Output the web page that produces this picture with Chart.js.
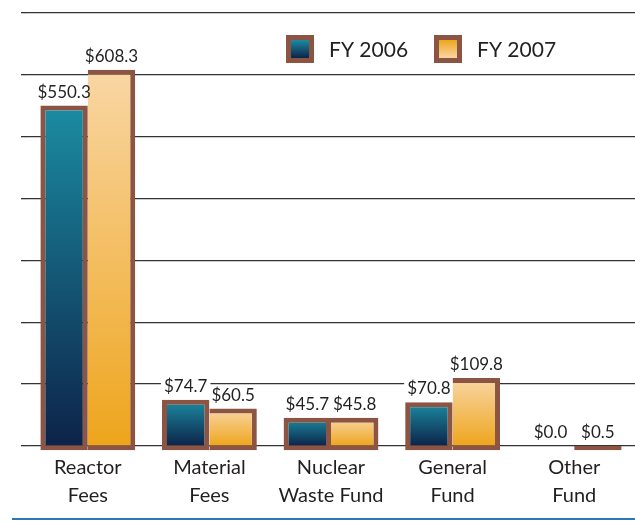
<!DOCTYPE html>
<html>
<head>
<meta charset="utf-8">
<script src="https://cdn.jsdelivr.net/npm/chart.js@4/dist/chart.umd.min.js"></script>
<style>
body { margin: 0; background: #fff; }
#wrap { position: relative; width: 635px; height: 521px; }
#bline { position: absolute; left: 12px; top: 518px; width: 623px; height: 2px; background: #2b78b6; }
</style>
</head>
<body>
<div id="wrap"><canvas id="myChart" width="635" height="521"></canvas><div id="bline"></div></div>
<script>
var categories = [["Reactor", "Fees"], ["Material", "Fees"], ["Nuclear", "Waste Fund"], ["General", "Fund"], ["Other", "Fund"]];
var seriesNames = ["FY 2006", "FY 2007"];
var fy2006 = [550.3, 74.7, 45.7, 70.8, 0.0];
var fy2007 = [608.3, 60.5, 45.8, 109.8, 0.5];
var yMax = 700;
var yStep = 100;

var edge = "#8b5443";
var teal = ["#1b8ca2", "#0d2349"];
var peach = ["#f9d6a4", "#eea51d"];

// gradient for each bar, from its own top down to zero
function barFill(cols) {
    return function(ctx) {
        var chart = ctx.chart, y = chart.scales.y;
        if (ctx.raw === 0) return "rgba(0,0,0,0)";
        if (!y || ctx.type !== "data") return cols[1];
        var top = y.getPixelForValue(ctx.raw), bot = y.getPixelForValue(0);
        if (!isFinite(top) || !isFinite(bot) || bot - top < 2) return cols[1];
        var g = chart.ctx.createLinearGradient(0, top, 0, bot);
        g.addColorStop(0, cols[0]);
        g.addColorStop(1, cols[1]);
        return g;
    };
}

function edgeColor(ctx) { return ctx.raw === 0 ? "rgba(0,0,0,0)" : edge; }

var labelFont = "17px Lato";

var valueLabels = {
    id: "valueLabels",
    beforeDatasetsDraw(chart) {
        var c = chart.ctx;
        c.save();
        c.font = labelFont;
        c.fillStyle = "#fff";
        chart.data.datasets.forEach(function(ds, i) {
            chart.getDatasetMeta(i).data.forEach(function(bar, j) {
                var txt = "$" + ds.data[j].toFixed(1);
                var w = c.measureText(txt).width;
                c.fillRect(bar.x - w / 2 - 3, bar.y - 8 - 15, w + 6, 19);
            });
        });
        c.restore();
    },
    afterDatasetsDraw(chart) {
        var c = chart.ctx;
        c.save();
        c.font = labelFont;
        c.textAlign = "center";
        c.textBaseline = "alphabetic";
        c.fillStyle = "#231f20";
        chart.data.datasets.forEach(function(ds, i) {
            chart.getDatasetMeta(i).data.forEach(function(bar, j) {
                c.fillText("$" + ds.data[j].toFixed(1), bar.x, bar.y - 8);
            });
        });
        c.restore();
    }
};

var boxLegend = {
    id: "boxLegend",
    afterDraw(chart) {
        var c = chart.ctx;
        var xs = [286, 434];
        var cols = [teal, [peach[1], peach[0]]];
        c.save();
        c.font = "21px Lato";
        c.textBaseline = "middle";
        c.textAlign = "left";
        seriesNames.forEach(function(name, i) {
            var x = xs[i], y = 35, s = 28;
            c.fillStyle = edge;
            c.fillRect(x, y, s, s);
            var g = c.createLinearGradient(0, y + 5, 0, y + s - 5);
            g.addColorStop(0, cols[i][0]);
            g.addColorStop(1, cols[i][1]);
            c.fillStyle = g;
            c.fillRect(x + 5, y + 5, s - 10, s - 10);
            c.fillStyle = "#231f20";
            c.fillText(name, x + 43, y + s / 2 + 1);
        });
        c.restore();
    }
};

new Chart("myChart", {
    type: "bar",
    data: {
        labels: categories,
        datasets: [{
            label: seriesNames[0],
            data: fy2006,
            backgroundColor: barFill(teal),
            borderColor: edgeColor,
            borderWidth: function(ctx) { return ctx.raw === 0 ? 0 : {top: 5, left: 5, right: 5, bottom: 5}; },
            borderSkipped: false,
            base: -7,
            clip: false
        }, {
            label: seriesNames[1],
            data: fy2007,
            backgroundColor: barFill(peach),
            borderColor: edgeColor,
            borderWidth: {top: 5, left: 0, right: 5, bottom: 5},
            borderSkipped: false,
            base: -7,
            clip: false
        }]
    },
    options: {
        responsive: false,
        animation: false,
        categoryPercentage: 0.78,
        barPercentage: 1.0,
        layout: {padding: {top: 13, left: 21, right: 0, bottom: 11}},
        plugins: {legend: {display: false}, tooltip: {enabled: false}},
        scales: {
            x: {
                grid: {display: false},
                border: {display: false},
                ticks: {
                    font: {family: "Lato", size: 20, lineHeight: 1.4},
                    color: "#231f20",
                    padding: 0,
                    maxRotation: 0,
                    autoSkip: false
                }
            },
            y: {
                min: 0,
                max: yMax,
                ticks: {stepSize: yStep, display: false},
                border: {display: false},
                grid: {color: "#333", lineWidth: 1.3, drawTicks: true, tickLength: 6}
            }
        }
    },
    plugins: [valueLabels, boxLegend]
});
</script>
</body>
</html>
